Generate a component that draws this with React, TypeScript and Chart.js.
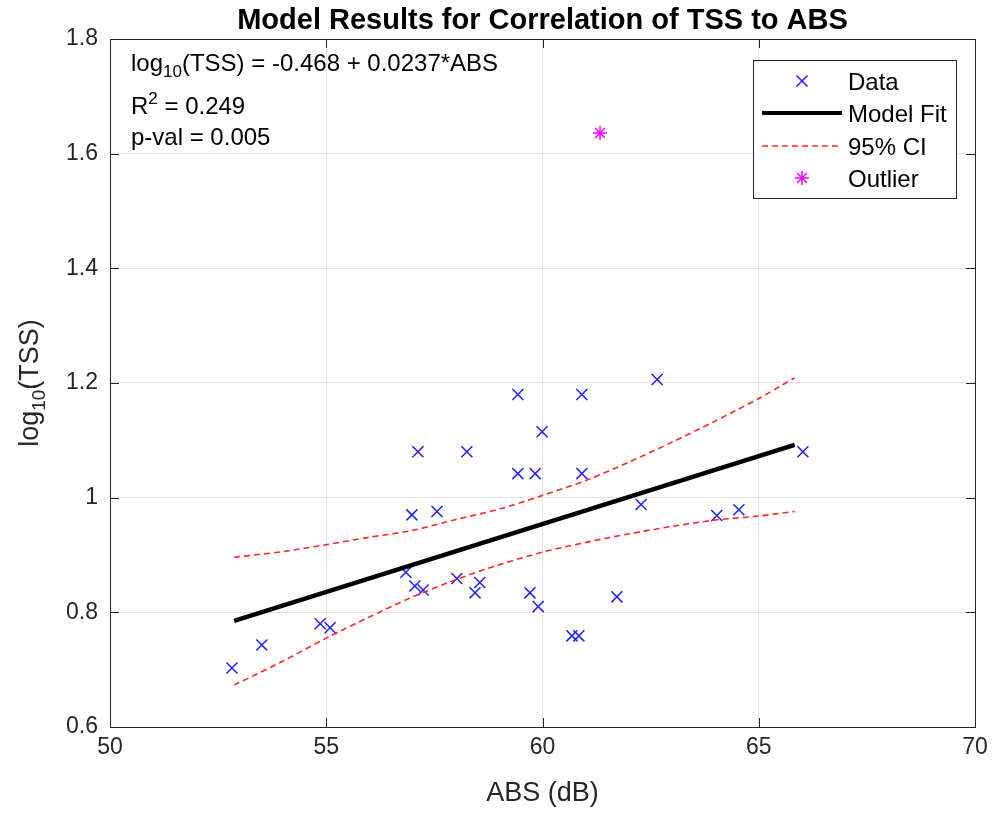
import React, { useEffect, useRef } from "react";
import { Chart, registerables } from "chart.js";

Chart.register(...registerables);

// ---- data ----
const dataX = [52.82, 53.51, 54.86, 55.09, 56.84, 56.98, 57.05, 57.12, 57.24, 57.56, 58.02, 58.25, 58.44, 58.55, 59.43, 59.43, 59.71, 59.83, 59.9, 59.99, 60.68, 60.84, 60.91, 60.91, 61.72, 62.28, 62.65, 64.03, 64.54, 66.02];
const dataY = [0.703, 0.743, 0.78, 0.773, 0.87, 0.97, 0.846, 1.08, 0.839, 0.976, 0.859, 1.08, 0.834, 0.852, 1.042, 1.18, 0.834, 1.042, 0.81, 1.115, 0.759, 0.759, 1.18, 1.042, 0.827, 0.988, 1.206, 0.969, 0.979, 1.08];

const fitX = [52.87, 65.83];
const fitY = [0.785, 1.092];

const ciX = [52.87, 54, 55, 56, 57, 58, 59, 60, 61, 62, 63, 64, 65, 65.83];
const ciUpper = [0.896, 0.906, 0.918, 0.931, 0.943, 0.962, 0.98, 1.004, 1.03, 1.062, 1.097, 1.134, 1.173, 1.209];
const ciLower = [0.673, 0.715, 0.755, 0.792, 0.827, 0.857, 0.883, 0.905, 0.922, 0.937, 0.95, 0.961, 0.968, 0.976];

const outlierX = [61.33];
const outlierY = [1.636];

const xTicks = { min: 50, max: 70, step: 5 };
const yTicks = { min: 0.6, max: 1.8, step: 0.2 };

const titleText = "Model Results for Correlation of TSS to ABS";
const xLabel = "ABS (dB)";
const legendLabels = ["Data", "Model Fit", "95% CI", "Outlier"];

const FONT = '"Liberation Sans", Arial, Helvetica, sans-serif';
const AXIS_COLOR = "#262626";
const BLUE = "rgb(30,30,255)";
const RED = "rgb(255,40,40)";
const MAGENTA = "#ff00ff";

type Part = { t: string; size: number; dy?: number; bold?: boolean };

function richWidth(ctx: CanvasRenderingContext2D, parts: Part[]) {
  let w = 0;
  for (const p of parts) {
    ctx.font = `${p.bold ? "bold " : ""}${p.size}px ${FONT}`;
    w += ctx.measureText(p.t).width;
  }
  return w;
}

function drawRich(ctx: CanvasRenderingContext2D, parts: Part[], x: number, y: number, align: "left" | "center") {
  let cx = align === "center" ? x - richWidth(ctx, parts) / 2 : x;
  ctx.textAlign = "left";
  ctx.textBaseline = "alphabetic";
  for (const p of parts) {
    ctx.font = `${p.bold ? "bold " : ""}${p.size}px ${FONT}`;
    ctx.fillText(p.t, cx, y + (p.dy || 0));
    cx += ctx.measureText(p.t).width;
  }
}

const decorPlugin = {
  id: "decor",
  afterDraw(chart: any) {
    const ctx: CanvasRenderingContext2D = chart.ctx;
    const { left, right, top, bottom } = chart.chartArea;
    const xs = chart.scales.x;
    const ys = chart.scales.y;
    ctx.save();

    // box and inward ticks
    ctx.strokeStyle = AXIS_COLOR;
    ctx.lineWidth = 1;
    ctx.strokeRect(Math.round(left) + 0.5, Math.round(top) + 0.5, Math.round(right - left), Math.round(bottom - top));
    const tl = 9;
    ctx.beginPath();
    xs.ticks.forEach((t: any) => {
      const px = Math.round(xs.getPixelForValue(t.value)) + 0.5;
      ctx.moveTo(px, bottom);
      ctx.lineTo(px, bottom - tl);
      ctx.moveTo(px, top);
      ctx.lineTo(px, top + tl);
    });
    ys.ticks.forEach((t: any) => {
      const py = Math.round(ys.getPixelForValue(t.value)) + 0.5;
      ctx.moveTo(left, py);
      ctx.lineTo(left + tl, py);
      ctx.moveTo(right, py);
      ctx.lineTo(right - tl, py);
    });
    ctx.stroke();

    ctx.fillStyle = "#000";
    // title
    drawRich(ctx, [{ t: titleText, size: 29, bold: true }], (left + right) / 2, 29, "center");

    // x label
    ctx.fillStyle = AXIS_COLOR;
    drawRich(ctx, [{ t: xLabel, size: 27 }], (left + right) / 2, 801, "center");

    // y label
    ctx.save();
    ctx.translate(38, (top + bottom) / 2);
    ctx.rotate(-Math.PI / 2);
    drawRich(
      ctx,
      [
        { t: "log", size: 27 },
        { t: "10", size: 19, dy: 7 },
        { t: "(TSS)", size: 27 },
      ],
      0,
      0,
      "center"
    );
    ctx.restore();

    // annotation
    ctx.fillStyle = "#000";
    drawRich(
      ctx,
      [
        { t: "log", size: 24 },
        { t: "10", size: 17, dy: 6 },
        { t: "(TSS) = -0.468 + 0.0237*ABS", size: 24 },
      ],
      131,
      71,
      "left"
    );
    drawRich(
      ctx,
      [
        { t: "R", size: 24 },
        { t: "2", size: 17, dy: -10 },
        { t: " = 0.249", size: 24 },
      ],
      131,
      114,
      "left"
    );
    drawRich(ctx, [{ t: "p-val = 0.005", size: 24 }], 131, 145, "left");

    // legend
    const lx = 753, ly = 60, lw = 203, lh = 138;
    ctx.fillStyle = "#fff";
    ctx.fillRect(lx, ly, lw, lh);
    ctx.strokeStyle = AXIS_COLOR;
    ctx.lineWidth = 1;
    ctx.strokeRect(lx + 0.5, ly + 0.5, lw, lh);
    const rows = [81, 113, 146, 178];
    const mx = 802;
    // data marker
    ctx.strokeStyle = BLUE;
    ctx.lineWidth = 1.5;
    ctx.beginPath();
    ctx.moveTo(mx - 5.5, rows[0] - 5.5);
    ctx.lineTo(mx + 5.5, rows[0] + 5.5);
    ctx.moveTo(mx + 5.5, rows[0] - 5.5);
    ctx.lineTo(mx - 5.5, rows[0] + 5.5);
    ctx.stroke();
    // fit line
    ctx.strokeStyle = "#000";
    ctx.lineWidth = 4;
    ctx.beginPath();
    ctx.moveTo(762, rows[1]);
    ctx.lineTo(842, rows[1]);
    ctx.stroke();
    // CI
    ctx.strokeStyle = RED;
    ctx.lineWidth = 1.5;
    ctx.setLineDash([6, 4]);
    ctx.beginPath();
    ctx.moveTo(762, rows[2]);
    ctx.lineTo(842, rows[2]);
    ctx.stroke();
    ctx.setLineDash([]);
    // outlier star
    ctx.strokeStyle = MAGENTA;
    ctx.lineWidth = 1.5;
    ctx.beginPath();
    const r = 7;
    ctx.moveTo(mx - r, rows[3]);
    ctx.lineTo(mx + r, rows[3]);
    ctx.moveTo(mx, rows[3] - r);
    ctx.lineTo(mx, rows[3] + r);
    const d = r * 0.707;
    ctx.moveTo(mx - d, rows[3] - d);
    ctx.lineTo(mx + d, rows[3] + d);
    ctx.moveTo(mx + d, rows[3] - d);
    ctx.lineTo(mx - d, rows[3] + d);
    ctx.stroke();

    ctx.fillStyle = "#000";
    legendLabels.forEach((lab, i) => {
      drawRich(ctx, [{ t: lab, size: 24 }], 848, rows[i] + 8.5, "left");
    });

    ctx.restore();
  },
};

const fmtTick = (v: any) => String(Number(Number(v).toFixed(2)));

export default function App() {
  const ref = useRef<HTMLCanvasElement | null>(null);
  useEffect(() => {
    document.body.style.margin = "0";
    const canvas = ref.current;
    if (!canvas) return;
    const chart = new Chart(canvas, {
      type: "scatter",
      data: {
        datasets: [
          {
            label: legendLabels[0],
            data: dataX.map((x, i) => ({ x, y: dataY[i] })),
            pointStyle: "crossRot",
            pointRadius: 7.8,
            borderColor: BLUE,
            backgroundColor: BLUE,
            borderWidth: 1.5,
            showLine: false,
            order: 4,
          },
          {
            type: "line",
            label: legendLabels[1],
            data: fitX.map((x, i) => ({ x, y: fitY[i] })),
            borderColor: "#000",
            borderWidth: 4.5,
            pointRadius: 0,
            showLine: true,
            fill: false,
            order: 3,
          },
          {
            type: "line",
            label: legendLabels[2],
            data: ciX.map((x, i) => ({ x, y: ciUpper[i] })),
            borderColor: RED,
            borderWidth: 1.6,
            borderDash: [6, 4],
            pointRadius: 0,
            showLine: true,
            fill: false,
            tension: 0.3,
            order: 2,
          },
          {
            type: "line",
            label: "lower",
            data: ciX.map((x, i) => ({ x, y: ciLower[i] })),
            borderColor: RED,
            borderWidth: 1.6,
            borderDash: [6, 4],
            pointRadius: 0,
            showLine: true,
            fill: false,
            tension: 0.3,
            order: 2,
          },
          {
            label: legendLabels[3],
            data: outlierX.map((x, i) => ({ x, y: outlierY[i] })),
            pointStyle: "star",
            pointRadius: 7,
            borderColor: MAGENTA,
            backgroundColor: MAGENTA,
            borderWidth: 1.5,
            showLine: false,
            order: 1,
          },
        ],
      } as any,
      options: {
        responsive: false,
        animation: false,
        devicePixelRatio: 1,
        layout: { padding: { left: 0, right: 20, top: 39, bottom: 0 } },
        plugins: {
          legend: { display: false },
          title: { display: false },
          tooltip: { enabled: false },
        },
        scales: {
          x: {
            type: "linear",
            min: xTicks.min,
            max: xTicks.max,
            ticks: {
              stepSize: xTicks.step,
              font: { size: 23, family: FONT },
              color: AXIS_COLOR,
              padding: 7,
              maxRotation: 0,
              callback: fmtTick,
            },
            grid: { color: "#e2e2e2", drawTicks: false },
            border: { display: false },
            afterFit: (s: any) => {
              s.height = 86;
            },
          },
          y: {
            type: "linear",
            min: yTicks.min,
            max: yTicks.max,
            ticks: {
              stepSize: yTicks.step,
              font: { size: 23, family: FONT },
              color: AXIS_COLOR,
              padding: 12,
              callback: fmtTick,
            },
            grid: { color: "#e2e2e2", drawTicks: false },
            border: { display: false },
            afterFit: (s: any) => {
              s.width = 110;
            },
          },
        },
      } as any,
      plugins: [decorPlugin],
    });
    return () => chart.destroy();
  }, []);
  return (
    <div>
      <canvas ref={ref} width={995} height={813} style={{ display: "block" }} />
    </div>
  );
}
